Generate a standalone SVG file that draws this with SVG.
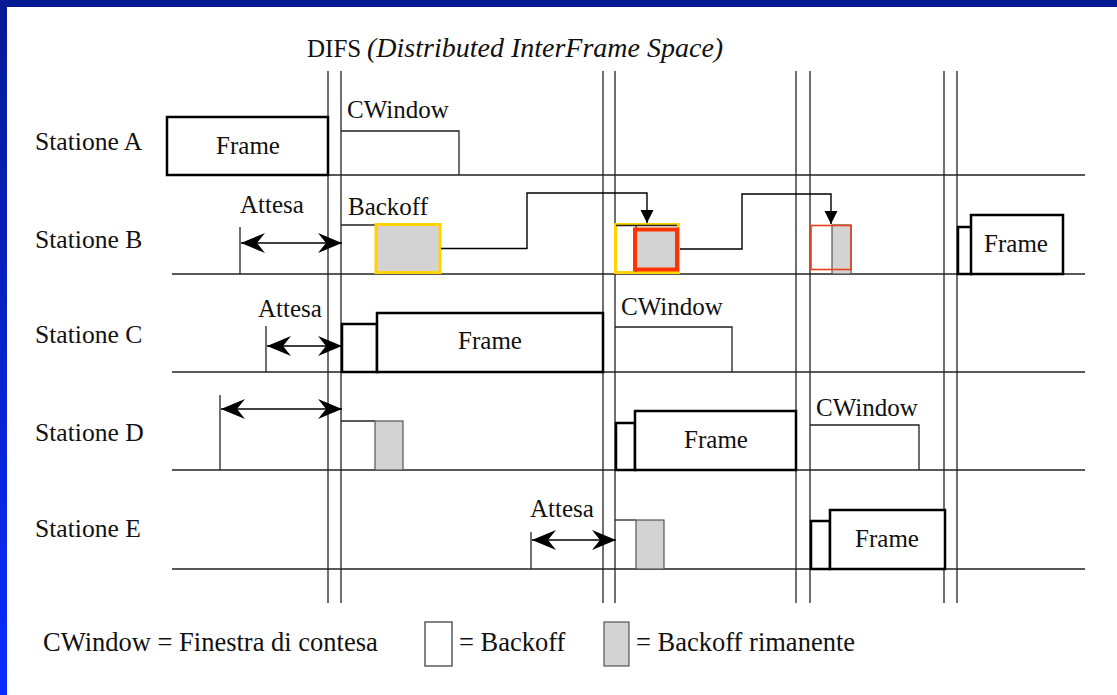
<svg xmlns="http://www.w3.org/2000/svg" width="1117" height="695" viewBox="0 0 1117 695">
<defs>
<linearGradient id="lb" x1="0" y1="0" x2="0" y2="1"><stop offset="0" stop-color="#061a94"/><stop offset="1" stop-color="#0a2cff"/></linearGradient>
<marker id="dbl" viewBox="-25 -11 26 22" refX="0" refY="0" markerWidth="26" markerHeight="22" markerUnits="userSpaceOnUse" orient="auto-start-reverse"><path d="M0,0 L-24,-10 L-16,0 L-24,10 Z" fill="#000"/></marker>
<marker id="tri" viewBox="-14 -7 15 14" refX="0" refY="0" markerWidth="15" markerHeight="14" markerUnits="userSpaceOnUse" orient="auto"><path d="M0,0 L-13,-6.5 L-13,6.5 Z" fill="#000"/></marker>
<style>
.t{font-family:"Liberation Serif","Times New Roman",serif;font-size:25px;fill:#111}
.st{font-size:25.6px}
.it{font-style:italic;font-size:28px}
.lg{font-size:26.5px}
.ax{stroke:#222;stroke-width:1.3;fill:none}
.fr{fill:#fff;stroke:#000;stroke-width:2.5}
.cw{fill:none;stroke:#222;stroke-width:1.3}
.g{fill:#d3d3d3;stroke:#555;stroke-width:1.2}
.w{fill:#fff;stroke:#333;stroke-width:1.2}
.ar{stroke:#000;stroke-width:1.4;fill:none}
</style>
</defs>
<rect x="0" y="0" width="1117" height="695" fill="#fff"/>
<rect x="0" y="0" width="1117" height="7" fill="#061a94"/>
<rect x="0" y="0" width="7" height="695" fill="url(#lb)"/>

<g id="title">
<text class="t" x="307" y="57">DIFS</text>
<text class="t it" x="367" y="57">(Distributed InterFrame Space)</text>
</g>

<g id="axes">
<line class="ax" x1="172" y1="175" x2="1085" y2="175"/>
<line class="ax" x1="172" y1="274" x2="1085" y2="274"/>
<line class="ax" x1="172" y1="372" x2="1085" y2="372"/>
<line class="ax" x1="172" y1="470" x2="1085" y2="470"/>
<line class="ax" x1="172" y1="569" x2="1085" y2="569"/>
<line class="ax" x1="328" y1="71" x2="328" y2="603"/>
<line class="ax" x1="341" y1="71" x2="341" y2="603"/>
<line class="ax" x1="603" y1="71" x2="603" y2="603"/>
<line class="ax" x1="615" y1="71" x2="615" y2="603"/>
<line class="ax" x1="796" y1="71" x2="796" y2="603"/>
<line class="ax" x1="810" y1="71" x2="810" y2="603"/>
<line class="ax" x1="944" y1="71" x2="944" y2="603"/>
<line class="ax" x1="957" y1="71" x2="957" y2="603"/>
</g>

<g id="stationA">
<text class="t st" x="35" y="150">Statione A</text>
<rect class="fr" x="167" y="117" width="161" height="58"/>
<text class="t" x="248" y="154" text-anchor="middle">Frame</text>
<text class="t" x="347" y="118">CWindow</text>
<path class="cw" d="M341,131 H459 V175"/>
</g>

<g id="stationB">
<text class="t st" x="35" y="248">Statione B</text>
<text class="t" x="240" y="213">Attesa</text>
<line class="ax" x1="240" y1="227" x2="240" y2="274"/>
<text class="t" x="348" y="215">Backoff</text>
<path class="cw" d="M341,225 H376"/>
<rect x="376" y="224.5" width="64" height="48" fill="#d3d3d3" stroke="#ffd200" stroke-width="3"/>
<rect x="615.5" y="224.5" width="63" height="48" fill="#fff" stroke="#ffd200" stroke-width="3"/>
<path class="cw" d="M616,225.5 H677 M636,225.5 V272"/>
<rect x="635" y="229.5" width="42" height="40" fill="#d3d3d3" stroke="#ff3300" stroke-width="4"/>
<rect class="g" x="832" y="225" width="19" height="49"/>
<rect x="811" y="225.5" width="40" height="44" fill="none" stroke="#e8401c" stroke-width="1.6"/>
<rect class="fr" x="958" y="227" width="14" height="47"/>
<rect class="fr" x="971" y="215" width="92" height="59"/>
<text class="t" x="1016" y="252" text-anchor="middle">Frame</text>
</g>

<g id="stationC">
<text class="t st" x="35" y="343">Statione C</text>
<text class="t" x="258" y="317">Attesa</text>
<line class="ax" x1="266" y1="326" x2="266" y2="372"/>
<rect class="fr" x="342" y="324" width="35" height="48"/>
<rect class="fr" x="377" y="313" width="226" height="59"/>
<text class="t" x="490" y="349" text-anchor="middle">Frame</text>
<text class="t" x="621" y="315">CWindow</text>
<path class="cw" d="M615,327 H732 V372"/>
</g>

<g id="stationD">
<text class="t st" x="35" y="441">Statione D</text>
<line class="ax" x1="220" y1="395" x2="220" y2="470"/>
<path class="cw" d="M341,421 H375"/>
<rect class="g" x="375" y="421" width="28" height="49"/>
<rect class="fr" x="616" y="423" width="19" height="47"/>
<rect class="fr" x="635" y="411" width="161" height="59"/>
<text class="t" x="716" y="448" text-anchor="middle">Frame</text>
<text class="t" x="816" y="416">CWindow</text>
<path class="cw" d="M810,425 H919 V470"/>
</g>

<g id="stationE">
<text class="t st" x="35" y="537">Statione E</text>
<text class="t" x="530" y="517">Attesa</text>
<line class="ax" x1="531" y1="532" x2="531" y2="569"/>
<path class="cw" d="M615,520 H636"/>
<rect class="g" x="636" y="520" width="28" height="49"/>
<rect class="fr" x="811" y="521" width="19" height="48"/>
<rect class="fr" x="830" y="510" width="115" height="59"/>
<text class="t" x="887" y="547" text-anchor="middle">Frame</text>
</g>

<g id="connectors">
<line class="ar" x1="241" y1="243" x2="342" y2="243" marker-start="url(#dbl)" marker-end="url(#dbl)"/>
<line class="ar" x1="267" y1="346" x2="342" y2="346" marker-start="url(#dbl)" marker-end="url(#dbl)"/>
<line class="ar" x1="221" y1="409" x2="342" y2="409" marker-start="url(#dbl)" marker-end="url(#dbl)"/>
<line class="ar" x1="532" y1="540" x2="616" y2="540" marker-start="url(#dbl)" marker-end="url(#dbl)"/>
<path class="ar" d="M441,248.5 H527 V193 H647 V223" marker-end="url(#tri)"/>
<path class="ar" d="M680,249 H742 V194 H831 V224" marker-end="url(#tri)"/>
</g>

<g id="legend">
<text class="t lg" x="43" y="651">CWindow = Finestra di contesa</text>
<rect class="w" x="425" y="622" width="27" height="44"/>
<text class="t lg" x="459" y="651">= Backoff</text>
<rect class="g" x="604" y="622" width="25" height="44"/>
<text class="t lg" x="636" y="651">= Backoff rimanente</text>
</g>
</svg>
